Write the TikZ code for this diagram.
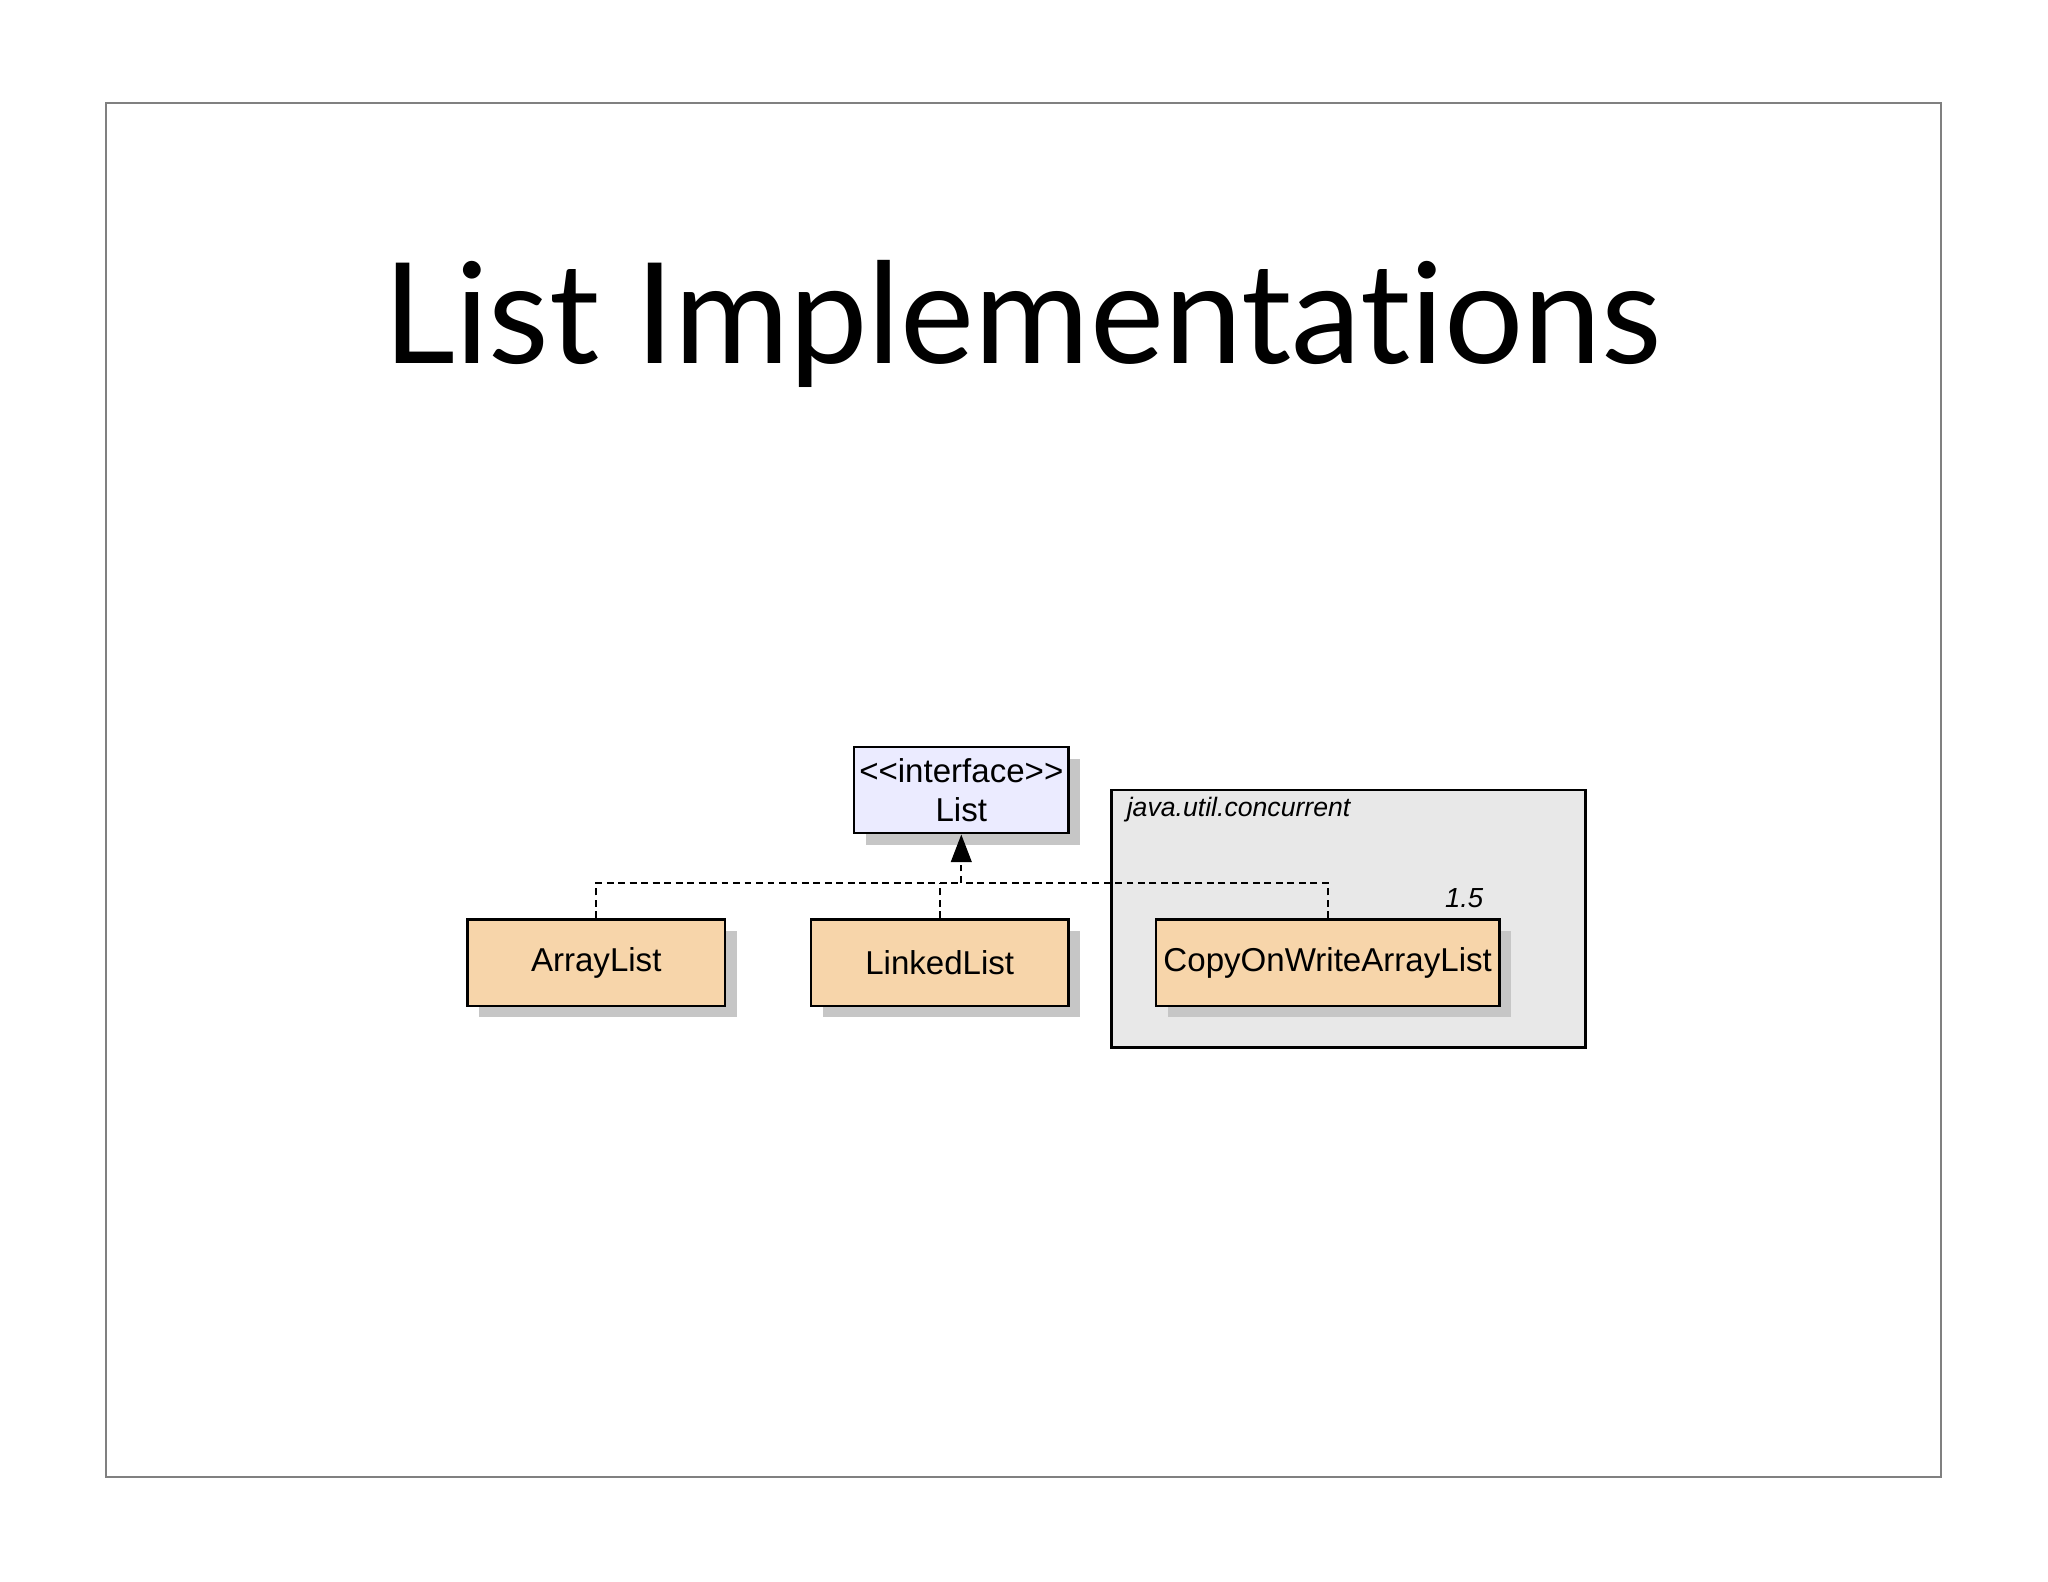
\documentclass[tikz,border=0pt]{standalone}
\usepackage{fontspec}
\setmainfont{Liberation Sans}
\newfontfamily\titlefont[Ligatures=NoCommon]{Lato}
\usetikzlibrary{arrows.meta}
\begin{document}
\begin{tikzpicture}[x=0.01cm,y=-0.01cm,
  cls/.style={draw=black,line width=0.5pt,fill={rgb,255:red,247;green,213;blue,170},inner sep=0,minimum height=0.66cm,font=\fontsize{7.2}{8}\selectfont},
  dep/.style={dash pattern=on 1.5pt off 1pt,line width=0.4pt}]
\useasboundingbox (0,0) rectangle (1568,1211);
\fill[white] (0,0) rectangle (1568,1211);
\draw[gray,line width=0.5pt] (81,79) rectangle (1486,1131);
\node[font=\titlefont\fontsize{30.5}{36}\selectfont] (title) at (783,248) {List Implementations};
% package
\draw[fill=gray!18,line width=0.5pt] (851,605) rectangle (1214,802);
\node[anchor=west,inner sep=0,font=\itshape\fontsize{5.8}{7}\selectfont] (pkg) at (862,620) {java.util.concurrent};
\node[font=\itshape\fontsize{6}{7}\selectfont] (ver) at (1121,688) {1.5};
% shadows
\foreach \a/\b/\c/\d in {654/572/818/638,358/704/555/770,621/704/818/770,885/704/1148/770}
  \fill[gray!45] (\a+9,\b+9) rectangle (\c+9,\d+9);
\node[draw,fill=blue!8!white,line width=0.5pt,minimum width=1.64cm,minimum height=0.66cm,inner sep=0,align=center,font=\fontsize{7.2}{8.6}\selectfont] (list) at (736,605) {{<}{<}interface{>}{>}\\List};
\node[cls,minimum width=1.97cm] (al) at (456.5,737) {ArrayList};
\node[cls,minimum width=1.97cm] (ll) at (719.5,737) {LinkedList};
\node[cls,minimum width=2.63cm] (cw) at (1016.5,737) {CopyOnWriteArrayList};
\coordinate (j) at (736,676);
\draw[dep] (al.north) |- (j);
\draw[dep] (cw.north) |- (j);
\draw[dep] (ll.north) -- (ll.north |- j);
\draw[dep,-{Triangle[length=6pt,width=4.5pt]}] (j) -- (list.south);
\end{tikzpicture}
\end{document}
